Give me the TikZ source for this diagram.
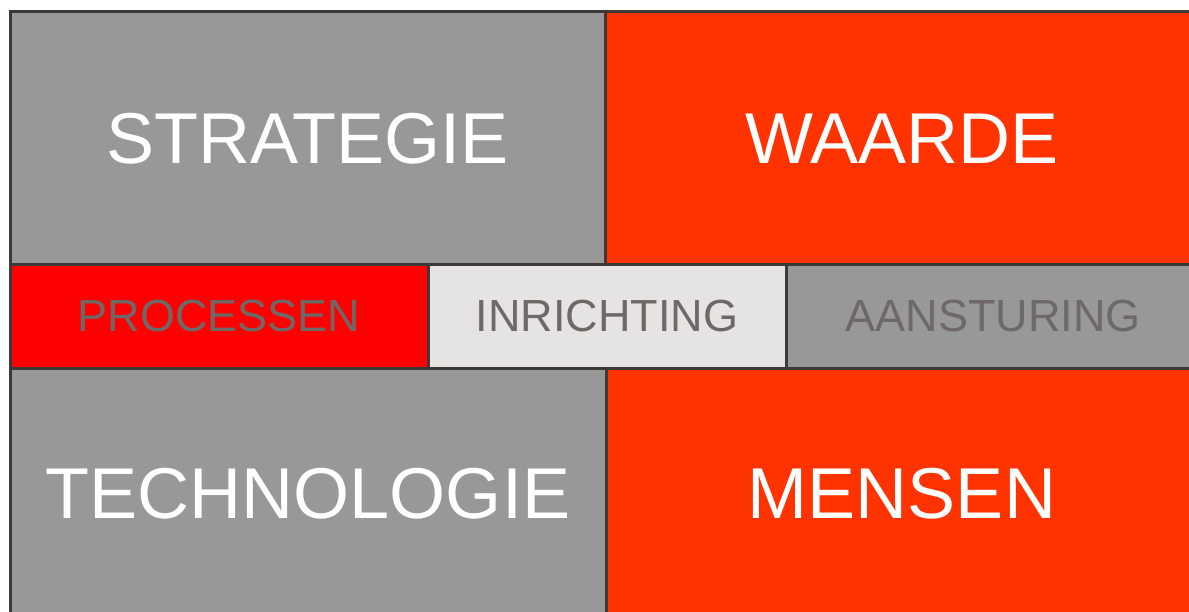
\documentclass[tikz,border=0pt]{standalone}
\usepackage{fontspec}
\setmainfont{Liberation Sans}
\usepackage{tikz}
\usetikzlibrary{positioning}
\definecolor{celgrey}{HTML}{989898}
\definecolor{celorange}{HTML}{FF3300}
\definecolor{celred}{HTML}{FF0000}
\definecolor{cellight}{HTML}{E6E4E2}
\definecolor{edgedark}{HTML}{3D3939}
\definecolor{labelgrey}{HTML}{6E6866}
\tikzset{cell/.style={rectangle,inner sep=0pt,outer sep=0pt,anchor=north west},
  big/.style={cell,text=white,font=\fontsize{72}{72}\selectfont},
  band/.style={cell,text=labelgrey,font=\fontsize{45}{45}\selectfont,minimum height=103pt},
  celledge/.style={draw=edgedark,line width=3pt}}

\begin{document}
\begin{tikzpicture}[x=1pt,y=1pt]
    \useasboundingbox (0,0) rectangle (1189,-612);
    \clip (0,0) rectangle (1189,-612);
    % top row
    \node[big,fill=celgrey,minimum width=595pt,minimum height=253pt] (strategie) at (10,-12) {STRATEGIE};
    \node[big,fill=celorange,minimum width=594pt,minimum height=253pt] (waarde) at (strategie.north east) {WAARDE};
    % middle band
    \node[band,fill=celred,minimum width=418pt] (processen) at (strategie.south west) {PROCESSEN};
    \node[band,fill=cellight,minimum width=358pt] (inrichting) at (processen.north east) {INRICHTING};
    \node[band,fill=celgrey,minimum width=414pt] (aansturing) at (inrichting.north east) {AANSTURING};
    % bottom row
    \node[big,fill=celgrey,minimum width=596pt,minimum height=252pt] (technologie) at (processen.south west) {TECHNOLOGIE};
    \node[big,fill=celorange,minimum width=592pt,minimum height=252pt] (mensen) at (technologie.north east) {MENSEN};
    % borders on top of all fills
    \foreach \c in {strategie,waarde,processen,inrichting,aansturing,technologie,mensen}
        \draw[celledge] (\c.north west) rectangle (\c.south east);
\end{tikzpicture}
\end{document}
